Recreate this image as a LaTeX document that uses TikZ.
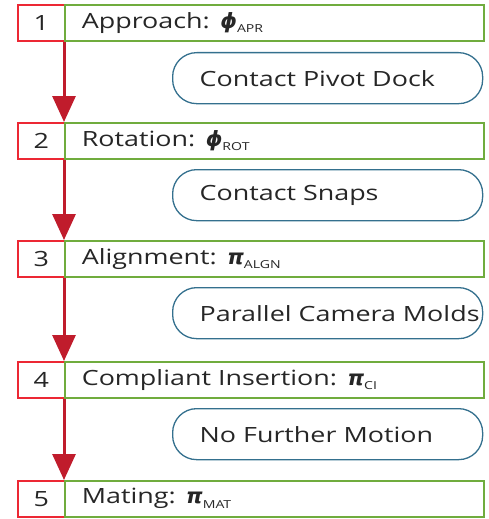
\documentclass[tikz,border=0pt]{standalone}
\usepackage{fontspec}
\setmainfont[FakeStretch = 1.28]{Open Sans}
\newfontfamily\grkfont{DejaVu Sans}
\usetikzlibrary{positioning, arrows.meta}

\definecolor{numred}{RGB}{236,40,52}
\definecolor{phasegreen}{RGB}{112,172,62}
\definecolor{eventblue}{RGB}{52,112,142}
\definecolor{flowred}{RGB}{192,28,44}

\tikzset{
  numbox/.style = {draw = numred, line width = 1.6pt, minimum width = 47pt, minimum height = 36pt,
                   inner sep = 0pt, anchor = north west},
  phasebox/.style = {draw = phasegreen, line width = 1.6pt, minimum width = 419pt, minimum height = 36pt,
                     text width = 419pt, inner sep = 0pt, align = left, anchor = north west,
                     execute at begin node = \hspace*{17pt}},
  eventbox/.style = {draw = eventblue, line width = 1.3pt, rounded corners = 24pt, minimum width = 310pt,
                     minimum height = 51pt, text width = 310pt, inner sep = 0pt, align = left, anchor = north west,
                     execute at begin node = \hspace*{27pt}},
  flow/.style = {->, flowred, line width = 3pt}
}
% controller symbol with small subscript
\newcommand{\ctrl}[2]{{\grkfont\fontsize{21}{24}\selectfont\bfseries\itshape #1}\raisebox{-4.5pt}{\fontsize{11}{11}\selectfont #2}}

\begin{document}
\begin{tikzpicture}[x = 1pt, y = -1pt, >={Triangle[length = 26pt, width = 23pt]},
                    font = \fontsize{21}{24}\selectfont, text = black!85]
\useasboundingbox (0,0) rectangle (489,519);

% steps
\node [numbox] (n1) at (17,4) {1};
\node [phasebox] (p1) at (64,4) {Approach: \ctrl{ϕ}{APR}};
\node [numbox] (n2) at (17,122) {2};
\node [phasebox] (p2) at (64,122) {Rotation: \ctrl{ϕ}{ROT}};
\node [numbox] (n3) at (17,240) {3};
\node [phasebox] (p3) at (64,240) {Alignment: \ctrl{π}{ALGN}};
\node [numbox] (n4) at (17,361) {4};
\node [phasebox] (p4) at (64,361) {Compliant Insertion: \ctrl{π}{CI}};
\node [numbox] (n5) at (17,480) {5};
\node [phasebox] (p5) at (64,480) {Mating: \ctrl{π}{MAT}};

% transition events
\node [eventbox] (e1) at (172,52) {Contact Pivot Dock};
\node [eventbox] (e2) at (172,169) {Contact Snaps};
\node [eventbox] (e3) at (172,287) {Parallel Camera Molds};
\node [eventbox] (e4) at (172,408) {No Further Motion};

\foreach \a/\b in {1/2, 2/3, 3/4, 4/5}
  \draw [flow] (p\a.south west) -- (p\b.north west);

\end{tikzpicture}
\end{document}
